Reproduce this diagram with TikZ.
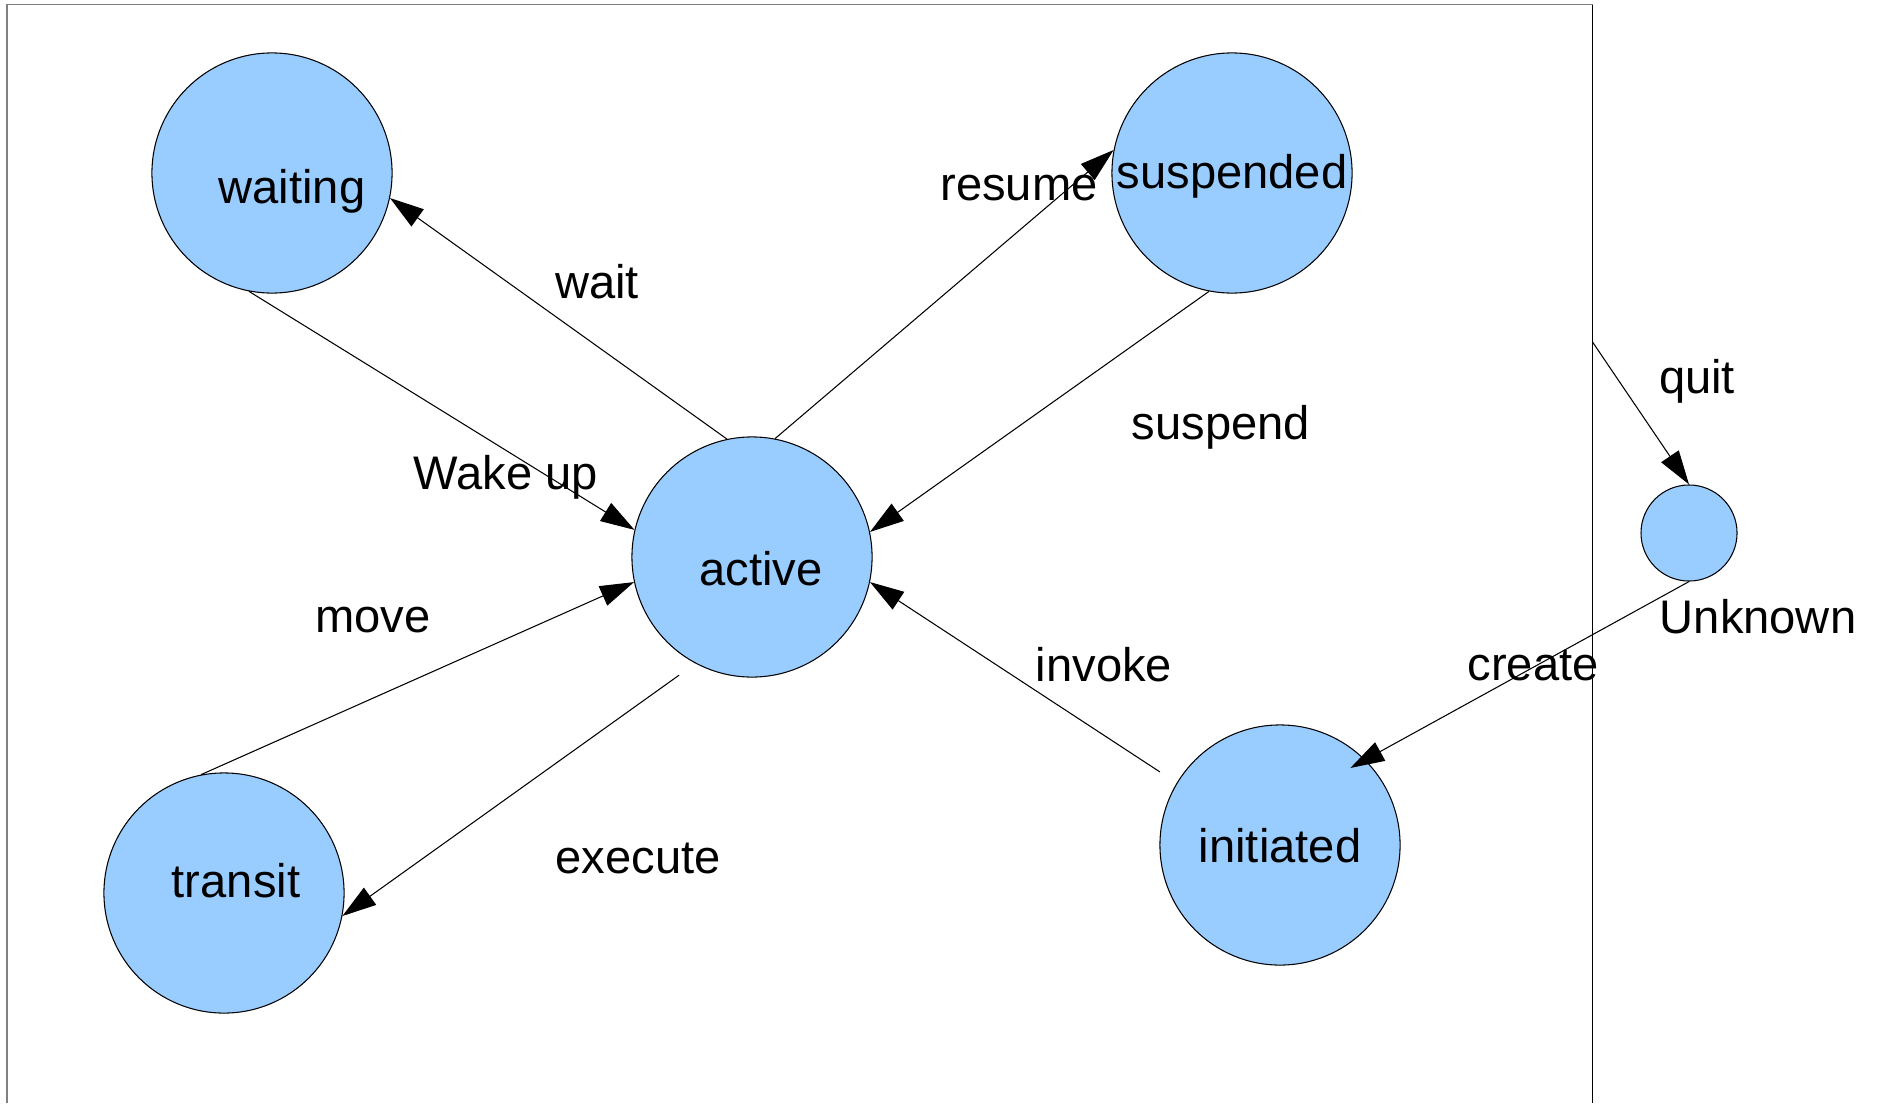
\documentclass[tikz,border=0pt]{standalone}
\usepackage{fontspec}
\setmainfont{Liberation Sans}
\usepackage{tikz}
\usetikzlibrary{arrows.meta}
\definecolor{sblue}  {RGB}{153,204,255}
\definecolor{fgrey}  {RGB}{128,128,128}
\tikzset{
    state/.style={circle, draw=black, fill=sblue, line width=0.3pt,
             minimum size=2.4cm, inner sep=0pt},
    smallstate/.style={state, minimum size=0.96cm},
    trans/.style={draw=black, line width=0.3pt,
             -{Triangle[length=0.34cm, width=0.21cm]}},
    lbl/.style={anchor=base, inner sep=0pt, font=\fontsize{13.4pt}{16pt}\selectfont}
  }

\begin{document}
\begin{tikzpicture}[x=0.01cm, y=-0.01cm]
 \useasboundingbox (0,0) rectangle (1877,1103);
 %frame
     \draw[fgrey, line width=0.5pt] (7,1103) -- (7,4.5) -- (1592.5,4.5);
     \draw[black, line width=0.3pt] (1592.5,4.5) -- (1592.5,1103);
 %states
     \node[state] (waiting)   at (272,173)  {};
     \node[state] (suspended) at (1232,173) {};
     \node[state] (active)    at (752,557)  {};
     \node[state] (transit)   at (224,893)  {};
     \node[state] (initiated) at (1280,845) {};
     \node[smallstate] (unknown) at (1689,533) {};
     \coordinate (quitstart) at (1592.5,342);
 %state names
     \node[lbl] (twaiting)   at (292,203)  {waiting};
     \node[lbl] (tsuspended) at (1232,188) {suspended};
     \node[lbl] (tactive)    at (761,585)  {active};
     \node[lbl] (ttransit)   at (236,897)  {transit};
     \node[lbl] (tinitiated) at (1280,862) {initiated};
     \node[lbl] (tunknown)   at (1758,633) {Unknown};
 %Wake up
     \draw[trans] (waiting.259) -- (active.167);
 %wait
     \draw[trans] (active.102) -- (waiting.-12);
 %resume
     \draw[trans] (active.79) -- (suspended.169);
 %suspend
     \draw[trans] (suspended.259) -- (active.12);
 %move
     \draw[trans] (transit.101) -- (active.192);
 %execute
     \draw[trans, shorten <=0.2cm] (active.242) -- (transit.-11);
 %invoke
     \draw[trans, shorten <=0.2cm] (initiated.149) -- (active.-12);
 %create
     \draw[trans, shorten >=-0.17cm] (unknown.south) -- (initiated.45);
 %quit
     \draw[trans] (quitstart) -- (unknown.north);
 %transition names
     \node[lbl] (lwait)    at (597,298)  {wait};
     \node[lbl] (lresume)  at (1019,200) {resume};
     \node[lbl] (lsuspend) at (1221,439) {suspend};
     \node[lbl] (lwake)    at (506,489)  {Wake up};
     \node[lbl] (lmove)    at (373,632)  {move};
     \node[lbl] (linvoke)  at (1104,681) {invoke};
     \node[lbl] (lexecute) at (638,873)  {execute};
     \node[lbl] (lcreate)  at (1533,680) {create};
     \node[lbl] (lquit)    at (1697,393) {quit};
 \end{tikzpicture}
\end{document}
